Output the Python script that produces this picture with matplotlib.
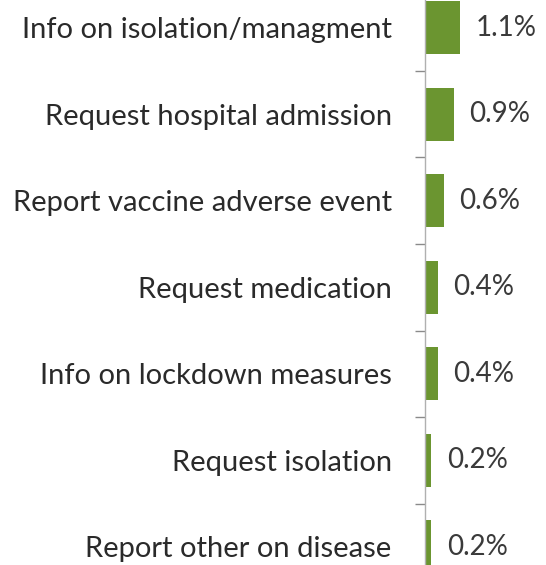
import numpy as np
import matplotlib.pyplot as plt

categories = ['Info on isolation/managment', 'Request hospital admission',
              'Report vaccine adverse event', 'Request medication',
              'Info on lockdown measures', 'Request isolation',
              'Report other on disease']
values = [1.1, 0.9, 0.6, 0.4, 0.4, 0.2, 0.2]
value_labels = ['1.1%', '0.9%', '0.6%', '0.4%', '0.4%', '0.2%', '0.2%']

plt.rcParams['font.family'] = ['Lato', 'DejaVu Sans']

fig = plt.figure(figsize=(5.46, 5.65), dpi=100)
ax = fig.add_axes([425 / 546, 0, 121 / 546, 1])

y = np.arange(len(categories))
ax.barh(y, values, height=0.61, color='#6b9530', edgecolor='none')

for yi, v, lab in zip(y, values, value_labels):
    ax.annotate(lab, (v, yi), xytext=(11, 0), textcoords='offset points',
                va='center', ha='left', fontsize=20, color='#3a3a3a')

ax.set_xlim(0, 3.78)
ax.set_ylim(6.21, -0.32)

ax.set_yticks(y)
ax.set_yticklabels(categories, fontsize=21, color='#2a2a2a')
ax.tick_params(axis='y', which='major', length=0, pad=24)
ax.set_yticks(y[:-1] + 0.5, minor=True)
ax.tick_params(axis='y', which='minor', length=7, width=1, color='#8a8a8a')
ax.set_xticks([])

for s in ['top', 'right', 'bottom']:
    ax.spines[s].set_visible(False)
ax.spines['left'].set_color('#b0b0b0')
ax.spines['left'].set_linewidth(1)

fig.savefig('out.png', dpi=100)
